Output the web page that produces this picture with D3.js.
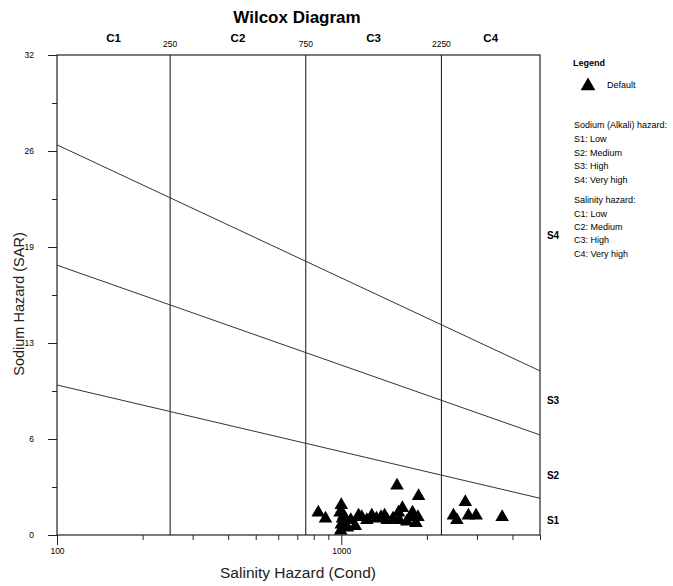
<!DOCTYPE html>
<html>
<head>
<meta charset="utf-8">
<script src="https://cdn.jsdelivr.net/npm/d3@7"></script>
<style>
  body { margin: 0; background: #fff; }
  svg { font-family: "Liberation Sans", Arial, sans-serif; }
</style>
</head>
<body>
<svg id="chart" width="673" height="586"></svg>
<script>
// ---- data ----
const condValues = [830, 880, 1000, 990, 1010, 1000, 995, 1020, 1050, 1080, 1120, 1150, 1180, 1230, 1280, 1330, 1380, 1420, 1450, 1520, 1570, 1590, 1600, 1640, 1700, 1750, 1780, 1830, 1870, 1860, 2480, 2550, 2730, 2800, 2980, 3680];
const sarValues  = [1.5, 1.1, 2.0, 1.5, 1.1, 0.7, 0.3, 1.3, 0.5, 1.0, 0.6, 1.3, 1.2, 1.0, 1.3, 1.1, 1.2, 1.3, 1.0, 1.1, 3.3, 1.5, 1.0, 1.8, 0.9, 1.2, 1.5, 0.8, 2.6, 1.2, 1.3, 1.0, 2.2, 1.3, 1.3, 1.2];
const salinityBounds = [100, 250, 750, 2250, 5000];
const salinityClasses = ["C1", "C2", "C3", "C4"];
const sodiumClasses = ["S1", "S2", "S3", "S4"];
const sodiumLabelSAR = [0.95, 4, 9, 20];
// boundary lines: SAR at cond 100 and at cond 5000
const boundaryStart = [10.0, 17.99, 26.01];
const boundaryEnd   = [2.45, 6.67, 10.94];
const yTickValues = [0, 6.4, 12.8, 19.2, 25.6, 32];
const yTickLabels = ["0", "6", "13", "19", "26", "32"];
const yMinorTicks = [3.2, 9.6, 16, 22.4, 28.8];
const xMajorTicks = [100, 1000];
const xMinorTicks = [200, 300, 400, 500, 600, 700, 800, 900, 2000, 3000, 4000, 5000];
const legendLines = ["Sodium (Alkali) hazard:", "S1: Low", "S2: Medium", "S3: High", "S4: Very high",
                     null, "Salinity hazard:", "C1: Low", "C2: Medium", "C3: High", "C4: Very high"];

// ---- layout ----
const svg = d3.select("#chart");
const L = 57, R = 540, T = 55, B = 535;
const x = d3.scaleLog().domain([100, 5000]).range([L, R]);
const y = d3.scaleLinear().domain([0, 32]).range([B, T]);

// title
svg.append("text").attr("x", 297).attr("y", 23).attr("text-anchor", "middle")
  .attr("font-size", 17).attr("font-weight", "bold").text("Wilcox Diagram");

// axes
const yAx = svg.append("g").attr("transform", `translate(${L},0)`)
  .call(d3.axisLeft(y).tickValues(yTickValues).tickFormat((d, i) => yTickLabels[i])
    .tickSize(9).tickSizeOuter(0).tickPadding(14));
yAx.select(".domain").remove();
yAx.selectAll("text").attr("font-size", 8.5).attr("font-family", null);
yAx.selectAll("line").attr("stroke", "#222");
const yMin = svg.append("g").attr("transform", `translate(${L},0)`)
  .call(d3.axisLeft(y).tickValues(yMinorTicks).tickFormat("").tickSize(5).tickSizeOuter(0));
yMin.select(".domain").remove();
yMin.selectAll("line").attr("stroke", "#222");

const xAx = svg.append("g").attr("transform", `translate(0,${B})`)
  .call(d3.axisBottom(x).tickValues(xMajorTicks).tickFormat(d3.format("d"))
    .tickSize(10).tickSizeOuter(0).tickPadding(3));
xAx.select(".domain").remove();
xAx.selectAll("text").attr("font-size", 8.5).attr("font-family", null);
xAx.selectAll("line").attr("stroke", "#222");
const xMin = svg.append("g").attr("transform", `translate(0,${B})`)
  .call(d3.axisBottom(x).tickValues(xMinorTicks).tickFormat("").tickSize(5).tickSizeOuter(0));
xMin.select(".domain").remove();
xMin.selectAll("line").attr("stroke", "#222");

// frame
svg.append("rect").attr("x", L).attr("y", T).attr("width", R - L).attr("height", B - T)
  .attr("fill", "none").attr("stroke", "#222").attr("stroke-width", 1.2);

// salinity class boundaries
svg.selectAll("line.cb").data(salinityBounds.slice(1, -1)).enter().append("line")
  .attr("x1", d => x(d)).attr("x2", d => x(d)).attr("y1", T).attr("y2", B)
  .attr("stroke", "#111").attr("stroke-width", 1);
svg.selectAll("text.cbv").data(salinityBounds.slice(1, -1)).enter().append("text")
  .attr("x", d => x(d)).attr("y", 46.5).attr("text-anchor", "middle")
  .attr("font-size", 8.5).text(d => d);
svg.selectAll("text.cl").data(salinityClasses).enter().append("text")
  .attr("x", (d, i) => x(Math.sqrt(salinityBounds[i] * salinityBounds[i + 1])))
  .attr("y", 42).attr("text-anchor", "middle").attr("font-size", 11.5).attr("font-weight", "bold")
  .text(d => d);

// sodium boundaries
const line = d3.line().x(d => x(d[0])).y(d => y(d[1]));
svg.selectAll("path.sb").data(boundaryStart.map((s, i) => [[100, s], [5000, boundaryEnd[i]]]))
  .enter().append("path").attr("d", line).attr("fill", "none")
  .attr("stroke", "#333").attr("stroke-width", 1);
svg.selectAll("text.sl").data(sodiumClasses).enter().append("text")
  .attr("x", 553).attr("y", (d, i) => y(sodiumLabelSAR[i]) + 3.5).attr("text-anchor", "middle")
  .attr("font-size", 10).attr("font-weight", "bold").text(d => d);

// points
const tri = d3.symbol().type(d3.symbolTriangle).size(80);
svg.selectAll("path.pt").data(condValues.map((c, i) => [c, sarValues[i]])).enter().append("path")
  .attr("d", tri).attr("transform", d => `translate(${x(d[0])},${y(d[1])})`).attr("fill", "#000");

// axis titles
svg.append("text").attr("x", 298).attr("y", 578).attr("text-anchor", "middle")
  .attr("font-size", 15.5).attr("fill", "#222").text("Salinity Hazard (Cond)");
svg.append("text").attr("transform", "translate(24,304) rotate(-90)").attr("text-anchor", "middle")
  .attr("font-size", 14.5).attr("fill", "#222").text("Sodium Hazard (SAR)");

// legend
svg.append("text").attr("x", 573).attr("y", 66).attr("font-size", 9).attr("font-weight", "bold").text("Legend");
svg.append("path").attr("d", d3.symbol().type(d3.symbolTriangle).size(95)())
  .attr("transform", "translate(588,86)").attr("fill", "#000");
svg.append("text").attr("x", 607).attr("y", 88).attr("font-size", 9).text("Default");
const legY = [128, 142, 155.5, 169, 182.5, null, 203, 216.5, 229.5, 243, 256.5];
legendLines.forEach((t, i) => {
  if (t === null) return;
  svg.append("text").attr("x", 574).attr("y", legY[i]).attr("font-size", 9).text(t);
});
</script>
</body>
</html>
